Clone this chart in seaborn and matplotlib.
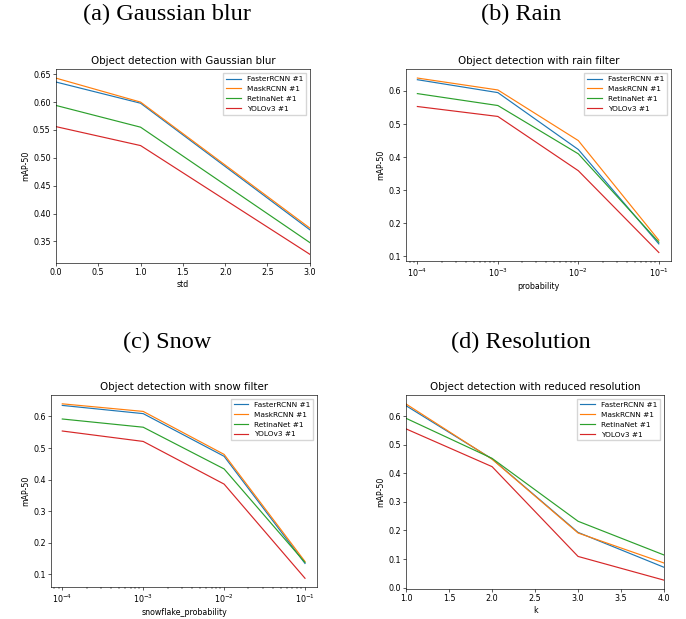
import matplotlib
matplotlib.use("Agg")
import matplotlib.pyplot as plt
import pandas as pd
import seaborn as sns

# model names and colours (matplotlib tab10 order)
models = ["FasterRCNN #1", "MaskRCNN #1", "RetinaNet #1", "YOLOv3 #1"]

# (a) gaussian blur
blur_std = [0, 1, 3]
blur_faster = [0.636, 0.598, 0.371]
blur_mask = [0.643, 0.600, 0.374]
blur_retina = [0.594, 0.555, 0.348]
blur_yolo = [0.556, 0.522, 0.327]

# (b) rain
rain_prob = [1e-4, 1e-3, 1e-2, 1e-1]
rain_faster = [0.634, 0.595, 0.423, 0.138]
rain_mask = [0.639, 0.603, 0.450, 0.149]
rain_retina = [0.592, 0.556, 0.410, 0.143]
rain_yolo = [0.553, 0.523, 0.359, 0.112]

# (c) snow
snow_prob = [1e-4, 1e-3, 1e-2, 1e-1]
snow_faster = [0.635, 0.609, 0.474, 0.135]
snow_mask = [0.640, 0.616, 0.480, 0.141]
snow_retina = [0.592, 0.566, 0.434, 0.138]
snow_yolo = [0.554, 0.521, 0.386, 0.088]

# (d) resolution
res_k = [1, 2, 3, 4]
res_faster = [0.636, 0.450, 0.193, 0.071]
res_mask = [0.642, 0.449, 0.191, 0.086]
res_retina = [0.592, 0.452, 0.232, 0.114]
res_yolo = [0.555, 0.423, 0.109, 0.026]


def to_long(x, series, xname):
    rows = []
    for name, ys in zip(models, series):
        for xv, yv in zip(x, ys):
            rows.append({xname: xv, "mAP-50": yv, "model": name})
    return pd.DataFrame(rows)


plt.rcParams.update({
    "font.family": "DejaVu Sans",
    "font.size": 5.8,
    "axes.titlesize": 7.4,
    "axes.labelsize": 5.7,
    "xtick.labelsize": 5.8,
    "ytick.labelsize": 5.8,
    "legend.fontsize": 5.3,
    "axes.linewidth": 0.45,
    "xtick.major.width": 0.45,
    "ytick.major.width": 0.45,
    "xtick.minor.width": 0.35,
    "ytick.minor.width": 0.35,
    "xtick.major.size": 2.0,
    "ytick.major.size": 2.0,
    "xtick.minor.size": 1.1,
    "ytick.minor.size": 1.1,
    "xtick.major.pad": 1.8,
    "ytick.major.pad": 1.8,
    "axes.titlepad": 3.5,
    "axes.labelpad": 2.2,
})

palette = dict(zip(models, ["#1f77b4", "#ff7f0e", "#2ca02c", "#d62728"]))

fig = plt.figure(figsize=(6.86, 6.19), dpi=100)

panels = [
    ([0.0816, 0.575, 0.370, 0.313], blur_std, [blur_faster, blur_mask, blur_retina, blur_yolo],
     "std", "Object detection with Gaussian blur", False),
    ([0.592, 0.578, 0.386, 0.310], rain_prob, [rain_faster, rain_mask, rain_retina, rain_yolo],
     "probability", "Object detection with rain filter", True),
    ([0.0743, 0.0517, 0.388, 0.310], snow_prob, [snow_faster, snow_mask, snow_retina, snow_yolo],
     "snowflake_probability", "Object detection with snow filter", True),
    ([0.592, 0.0485, 0.376, 0.313], res_k, [res_faster, res_mask, res_retina, res_yolo],
     "k", "Object detection with reduced resolution", False),
]

for rect, x, series, xname, title, logx in panels:
    ax = fig.add_axes(rect)
    df = to_long(x, series, xname)
    sns.lineplot(data=df, x=xname, y="mAP-50", hue="model", palette=palette,
                 linewidth=0.85, ax=ax, legend=True)
    if logx:
        ax.set_xscale("log")
        ax.set_xlim(10 ** (-4 - 0.14), 10 ** (-1 + 0.15))
    else:
        ax.set_xlim(min(x), max(x))
    ax.set_title(title)
    ax.set_xlabel(xname)
    ax.set_ylabel("mAP-50")
    handles, labels = ax.get_legend_handles_labels()
    ax.legend(handles, labels, loc="upper right", frameon=True,
              handlelength=2.0, borderpad=0.4, labelspacing=0.5,
              fancybox=False, edgecolor="#cccccc")

captions = [
    (0.243, 0.977, "(a) Gaussian blur"),
    (0.760, 0.977, "(b) Rain"),
    (0.243, 0.446, "(c) Snow"),
    (0.760, 0.446, "(d) Resolution"),
]
for cx, cy, text in captions:
    fig.text(cx, cy, text, ha="center", va="center",
             family="Liberation Serif", fontsize=17.5)

fig.savefig("out.png", dpi=100)
